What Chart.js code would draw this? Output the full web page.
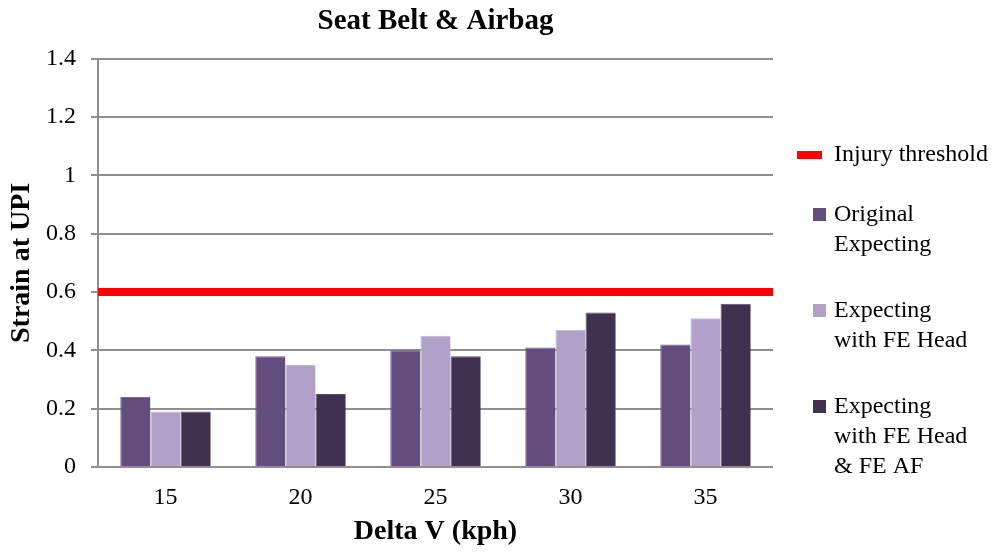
<!DOCTYPE html>
<html>
<head>
<meta charset="utf-8">
<script src="https://cdn.jsdelivr.net/npm/chart.js@4/dist/chart.umd.min.js"></script>
<style>
  html, body { margin: 0; padding: 0; background: #ffffff; }
  #wrap { width: 992px; height: 556px; }
</style>
</head>
<body>
<div id="wrap"><canvas id="chart" width="992" height="556"></canvas></div>
<script>
// Delta V categories and strain values per seating configuration
const deltaV = ['15', '20', '25', '30', '35'];
const originalExpecting = [0.24, 0.38, 0.40, 0.41, 0.42];
const withFEHead = [0.19, 0.35, 0.45, 0.47, 0.51];
const withFEHeadAndAF = [0.19, 0.25, 0.38, 0.53, 0.56];
const injuryThreshold = 0.6;

// Legend entries, already broken into lines
const thresholdLines = ['Injury threshold'];
const seriesLines = [
  ['Original', 'Expecting'],
  ['Expecting', 'with FE Head'],
  ['Expecting', 'with FE Head', '& FE AF']
];

const SERIF = "'Liberation Serif', 'Times New Roman', serif";
const FS = 24;      // regular text
const FSB = 28;     // bold axis titles
const GRID = '#8f8f8f';
const RED = '#ff0000';

// Horizontal threshold across the plot area, placed with the y scale
const thresholdLine = {
  id: 'thresholdLine',
  afterDatasetsDraw(chart) {
    const { ctx, chartArea, scales } = chart;
    const y = scales.y.getPixelForValue(injuryThreshold);
    ctx.save();
    ctx.strokeStyle = RED;
    ctx.lineWidth = 8;
    ctx.lineCap = 'butt';
    ctx.beginPath();
    ctx.moveTo(chartArea.left, y);
    ctx.lineTo(chartArea.right, y);
    ctx.stroke();
    ctx.restore();
  }
};

// Side legend: threshold entry first, then one square swatch per bar series
const sideLegend = {
  id: 'sideLegend',
  afterDraw(chart) {
    const ctx = chart.ctx;
    const tx = 834;
    const lh = 30;
    const firstRows = [155, 215, 311, 407];
    ctx.save();
    ctx.font = FS + 'px ' + SERIF;
    ctx.textBaseline = 'middle';
    ctx.textAlign = 'left';

    ctx.fillStyle = RED;
    ctx.fillRect(797, firstRows[0] - 4, 25, 8);
    ctx.fillStyle = '#000000';
    thresholdLines.forEach((t, k) => ctx.fillText(t, tx, firstRows[0] + k * lh));

    chart.data.datasets.forEach((ds, i) => {
      const y0 = firstRows[i + 1];
      ctx.fillStyle = ds.backgroundColor;
      ctx.fillRect(813, y0 - 7, 13, 13);
      ctx.fillStyle = '#000000';
      seriesLines[i].forEach((t, k) => ctx.fillText(t, tx, y0 + k * lh));
    });
    ctx.restore();
  }
};

new Chart(document.getElementById('chart'), {
  type: 'bar',
  data: {
    labels: deltaV,
    datasets: [
      {
        label: seriesLines[0].join(' '),
        data: originalExpecting,
        backgroundColor: '#624d7c',
        borderColor: '#7a6894',
        borderWidth: { top: 1, left: 1, right: 0, bottom: 0 }
      },
      {
        label: seriesLines[1].join(' '),
        data: withFEHead,
        backgroundColor: '#b1a0c7',
        borderColor: '#c6b9d7',
        borderWidth: { top: 1, left: 1, right: 0, bottom: 0 }
      },
      {
        label: seriesLines[2].join(' '),
        data: withFEHeadAndAF,
        backgroundColor: '#403151',
        borderColor: '#5a4c6b',
        borderWidth: { top: 1, left: 1, right: 0, bottom: 0 }
      }
    ]
  },
  plugins: [thresholdLine, sideLegend],
  options: {
    responsive: false,
    animation: false,
    devicePixelRatio: 1,
    layout: { padding: { left: 0, right: 219, top: 0, bottom: 0 } },
    datasets: {
      bar: { categoryPercentage: 0.67, barPercentage: 1.0 }
    },
    plugins: {
      legend: { display: false },
      tooltip: { enabled: false },
      title: {
        display: true,
        text: 'Seat Belt & Airbag',
        color: '#000000',
        fullSize: false,
        font: { family: SERIF, size: 29, weight: 'bold', lineHeight: 1.2 },
        padding: { top: 4, bottom: 20 }
      }
    },
    scales: {
      x: {
        type: 'category',
        grid: { display: false, drawTicks: false },
        border: { display: false },
        ticks: { color: '#000000', font: { family: SERIF, size: FS }, padding: 16 },
        title: {
          display: true,
          text: 'Delta V (kph)',
          color: '#000000',
          font: { family: SERIF, size: FSB, weight: 'bold' },
          padding: { top: 2, bottom: 7 }
        },
        afterFit(scale) { scale.height = 556 - 467; }
      },
      y: {
        min: 0,
        max: 1.4,
        ticks: {
          stepSize: 0.2,
          color: '#000000',
          font: { family: SERIF, size: FS },
          padding: 15,
          callback: (v) => String(Math.round(v * 10) / 10)
        },
        grid: { color: GRID, lineWidth: 2, tickLength: 7, tickColor: GRID },
        border: { color: GRID, width: 2 },
        title: {
          display: true,
          text: 'Strain at UPI',
          color: '#000000',
          font: { family: SERIF, size: FSB, weight: 'bold' },
          padding: { top: 5, bottom: 4 }
        },
        afterFit(scale) { scale.width = 98; }
      }
    }
  }
});
</script>
</body>
</html>
